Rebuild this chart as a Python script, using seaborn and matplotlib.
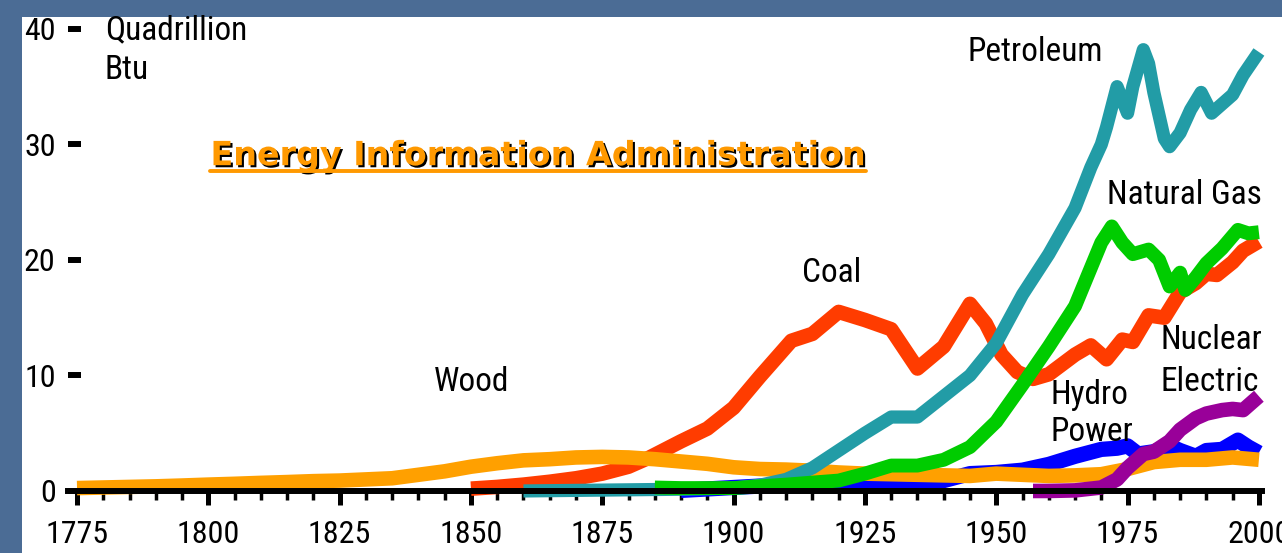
import matplotlib
matplotlib.use("Agg")
import matplotlib.pyplot as plt
import matplotlib.patheffects as pe
from matplotlib import font_manager
from matplotlib.font_manager import FontProperties
from matplotlib.patches import Rectangle
from matplotlib.lines import Line2D
from matplotlib.transforms import IdentityTransform
from matplotlib.ticker import FixedLocator
import pandas as pd
import seaborn as sns

# US energy consumption by source, quadrillion Btu
wood_years = [1775, 1780, 1785, 1790, 1795, 1800, 1805, 1810, 1815, 1820, 1825, 1830, 1835,
              1840, 1845, 1850, 1855, 1860, 1865, 1870, 1875, 1880, 1885, 1890, 1895, 1900,
              1905, 1910, 1915, 1920, 1925, 1930, 1935, 1940, 1945, 1950, 1955, 1960, 1965,
              1970, 1975, 1980, 1985, 1990, 1995, 2000]
wood_vals = [0.25, 0.3, 0.35, 0.4, 0.47, 0.55, 0.62, 0.7, 0.77, 0.85, 0.9, 1.0, 1.1,
             1.4, 1.7, 2.1, 2.4, 2.65, 2.75, 2.9, 2.95, 2.9, 2.75, 2.55, 2.35, 2.05,
             1.9, 1.85, 1.75, 1.6, 1.5, 1.45, 1.4, 1.35, 1.3, 1.5, 1.4, 1.3, 1.35,
             1.45, 1.9, 2.5, 2.7, 2.7, 2.9, 2.7]

coal_years = [1850, 1855, 1860, 1865, 1870, 1875, 1880, 1884, 1890, 1895, 1900, 1905, 1911,
              1915, 1920, 1925, 1930, 1935, 1940, 1945, 1948, 1951, 1954, 1957, 1960, 1965,
              1968, 1971, 1974, 1976, 1979, 1982, 1985, 1988, 1990, 1992, 1995, 1997, 2000]
coal_vals = [0.2, 0.35, 0.55, 0.8, 1.1, 1.5, 2.1, 2.9, 4.3, 5.4, 7.2, 9.9, 13.0,
             13.6, 15.5, 14.8, 14.0, 10.6, 12.5, 16.2, 14.5, 11.8, 10.3, 9.7, 10.1, 11.8,
             12.6, 11.4, 13.1, 12.9, 15.2, 15.0, 17.2, 18.0, 18.8, 18.7, 19.8, 20.8, 21.6]

petro_years = [1860, 1870, 1880, 1890, 1900, 1905, 1910, 1915, 1920, 1925, 1930, 1935, 1940,
               1945, 1950, 1955, 1960, 1965, 1968, 1970, 1971, 1973, 1975, 1976, 1978, 1979,
               1980, 1982, 1983, 1985, 1987, 1989, 1991, 1993, 1995, 1997, 2000]
petro_vals = [0.0, 0.05, 0.1, 0.15, 0.25, 0.5, 1.0, 2.0, 3.5, 5.0, 6.4, 6.4, 8.2,
              10.0, 12.8, 17.0, 20.5, 24.5, 28.0, 30.0, 31.5, 35.0, 32.7, 35.0, 38.2, 37.0,
              34.5, 30.5, 29.8, 31.0, 33.0, 34.5, 32.7, 33.5, 34.3, 36.0, 38.0]

gas_years = [1885, 1890, 1900, 1910, 1920, 1925, 1930, 1935, 1940, 1945, 1950, 1955, 1960,
             1965, 1970, 1972, 1974, 1976, 1979, 1981, 1983, 1985, 1986, 1988, 1990, 1993,
             1996, 1998, 2000]
gas_vals = [0.3, 0.25, 0.25, 0.55, 0.9, 1.5, 2.2, 2.2, 2.7, 3.8, 6.0, 9.2, 12.5,
            16.0, 21.5, 22.9, 21.5, 20.5, 20.9, 20.0, 17.7, 18.9, 17.4, 18.5, 19.7, 21.0,
            22.6, 22.3, 22.4]

hydro_years = [1890, 1900, 1910, 1920, 1930, 1940, 1945, 1950, 1955, 1960, 1965, 1970, 1973,
               1975, 1977, 1980, 1983, 1985, 1988, 1990, 1993, 1996, 1998, 2000]
hydro_vals = [0.05, 0.3, 0.55, 0.75, 0.8, 0.9, 1.5, 1.6, 1.8, 2.3, 3.0, 3.6, 3.7,
              3.9, 3.2, 3.4, 3.9, 3.5, 3.0, 3.5, 3.6, 4.4, 3.8, 3.3]

nuke_years = [1957, 1960, 1965, 1970, 1973, 1975, 1978, 1980, 1983, 1985, 1988, 1990, 1993,
              1995, 1997, 1999, 2000]
nuke_vals = [0.0, 0.0, 0.05, 0.3, 1.0, 2.0, 3.2, 3.4, 4.3, 5.3, 6.3, 6.7, 7.0,
             7.1, 7.0, 7.8, 8.2]

year_ticks = list(range(1775, 2001, 25))
minor_ticks = list(range(1775, 2001, 5))
quad_ticks = [0, 10, 20, 30, 40]

series = [
    # name, years, values, colour, width
    ("Coal", coal_years, coal_vals, "#ff3c00", 10.5),
    ("Hydro Power", hydro_years, hydro_vals, "#0000ff", 11),
    ("Wood", wood_years, wood_vals, "#ffa000", 10.5),
    ("Petroleum", petro_years, petro_vals, "#229ca6", 9.5),
    ("Natural Gas", gas_years, gas_vals, "#00cc00", 10),
    ("Nuclear Electric", nuke_years, nuke_vals, "#990099", 10.5),
]


def pick_narrow_font():
    # look for a condensed sans installed on the box, else fall back to Liberation Sans
    fonts = font_manager.fontManager.ttflist
    for want in ["Liberation Sans Narrow", "Roboto Condensed", "DejaVu Sans Condensed",
                 "Open Sans Condensed", "Noto Sans Condensed"]:
        for f in fonts:
            if f.name == want and f.style == "normal" and f.weight in (400, "normal", "regular"):
                return f.fname, True
    for f in fonts:
        st = str(f.stretch)
        if ("Narrow" in f.name or "Condensed" in f.name or st in ("condensed", "semi-condensed")) \
                and f.style == "normal" and f.weight in (400, "normal", "regular"):
            return f.fname, True
    return font_manager.findfont(FontProperties(family="Liberation Sans")), False


font_file, is_narrow = pick_narrow_font()
lab_size = 24 if is_narrow else 20
tick_size = 23 if is_narrow else 20

sns.set_style("white")
plt.rcParams['font.family'] = ['Liberation Sans', 'DejaVu Sans']

fig = plt.figure(figsize=(12.82, 5.53), dpi=100, facecolor="#4b6c95")
fig.patches.append(Rectangle((22 / 1282, 0), 1, (553 - 17) / 553, transform=fig.transFigure,
                             facecolor="white", edgecolor="none", zorder=-5))
ax = fig.add_axes([0, 0, 1, 1])
ax.set_zorder(5)
ax.patch.set_visible(False)

for i, (name, yrs, vals, col, lw) in enumerate(series):
    df = pd.DataFrame({"year": yrs, "quads": vals})
    sns.lineplot(data=df, x="year", y="quads", color=col, lw=lw, ax=ax, zorder=2 + i,
                 solid_joinstyle="round", solid_capstyle="butt")

ax.set_xlim(1760.34, 2004.4)
ax.set_ylim(-5.37, 42.5)
ax.set_xlabel("")
ax.set_ylabel("")

for s in ["top", "right"]:
    ax.spines[s].set_visible(False)
ax.spines["left"].set_position(("data", 1775.8))
ax.spines["left"].set_visible(False)
ax.spines["bottom"].set_position(("data", 0))
ax.spines["bottom"].set_linewidth(4.3)
ax.spines["bottom"].set_color("black")
ax.spines["bottom"].set_bounds(1773.3, 2000.6)
ax.spines["bottom"].set_zorder(20)

ax.set_xticks(year_ticks)
ax.xaxis.set_minor_locator(FixedLocator(minor_ticks))
ax.set_yticks(quad_ticks)
ax.tick_params(axis="x", which="major", direction="out", length=10, width=3.6,
               pad=11, color="black", labelcolor="black")
ax.tick_params(axis="x", which="minor", direction="out", length=6.5, width=2.5, color="black")
ax.tick_params(axis="y", which="major", direction="out", length=9.4, width=4.3,
               pad=9, color="black", labelcolor="black")
ax.xaxis.set_ticks_position("bottom")
ax.yaxis.set_ticks_position("left")

tick_fp = FontProperties(fname=font_file, size=tick_size)
for t in ax.get_xticklabels() + ax.get_yticklabels():
    t.set_fontproperties(tick_fp)

lab_fp = FontProperties(fname=font_file, size=lab_size)
lab = dict(fontproperties=lab_fp, color="black", va="center")
ax.text(1780.3, 39.9, "Quadrillion", ha="left", **lab)
ax.text(1780.3, 36.4, "Btu", ha="left", **lab)
ax.text(1957.4, 38.0, "Petroleum", ha="center", **lab)
ax.text(1985.9, 25.6, "Natural Gas", ha="center", **lab)
ax.text(1918.7, 18.9, "Coal", ha="center", **lab)
ax.text(1850.2, 9.4, "Wood", ha="center", **lab)
ax.text(1960.4, 8.3, "Hydro", ha="left", **lab)
ax.text(1960.4, 5.1, "Power", ha="left", **lab)
ax.text(1981.2, 13.1, "Nuclear", ha="left", **lab)
ax.text(1981.2, 9.4, "Electric", ha="left", **lab)

shadow = [pe.withSimplePatchShadow(offset=(1.5, -1.5), shadow_rgbFace="black", alpha=1.0)]
title = ax.text(1862.8, 28.2, "Energy Information Administration", ha="center", va="baseline",
                fontsize=24, fontweight="bold", family=["DejaVu Sans"], color="#ff9900",
                path_effects=shadow, zorder=30)

fig.canvas.draw()
bb = title.get_window_extent(fig.canvas.get_renderer())
base_y = ax.transData.transform((0, 28.2))[1]
ul = Line2D([bb.x0, bb.x1], [base_y - 6, base_y - 6], transform=IdentityTransform(),
            color="#ff9900", lw=2.8, path_effects=shadow, zorder=30)
fig.add_artist(ul)

fig.savefig("out.png", dpi=100, facecolor=fig.get_facecolor())
